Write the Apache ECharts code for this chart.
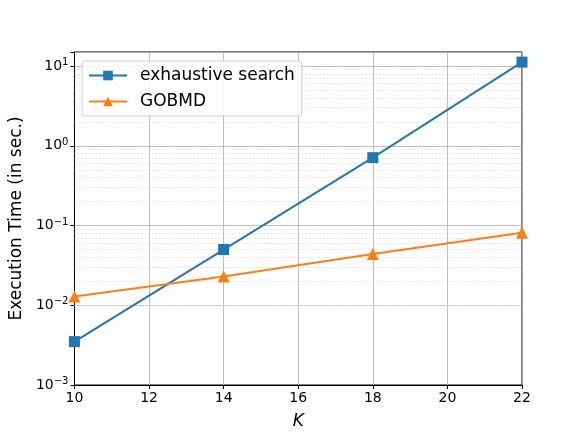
<!DOCTYPE html>
<html>
<head>
<meta charset="utf-8">
<script src="https://cdn.jsdelivr.net/npm/echarts@6/dist/echarts.min.js"></script>
<style>
  html, body { margin: 0; padding: 0; background: #fff; }
  #chart { width: 581px; height: 435px; }
</style>
</head>
<body>
<div id="chart"></div>
<script>
  // data
  const kValues = [10, 14, 18, 22];
  const exhaustive = [0.0035, 0.05, 0.71, 11.2];
  const gobmd = [0.0129, 0.023, 0.044, 0.081];
  const xTicks = [10, 12, 14, 16, 18, 20, 22];

  // dashed minor grid at 2..9 x 10^k
  const minorLines = [];
  for (let e = -3; e <= 1; e++) {
    for (let m = 2; m <= 9; m++) {
      const v = m * Math.pow(10, e);
      if (v < 15) minorLines.push({ yAxis: v });
    }
  }

  const font = 'DejaVu Sans';
  const chart = echarts.init(document.getElementById('chart'));
  chart.setOption({
    animation: false,
    textStyle: { fontFamily: font },
    grid: {
      left: 73, right: 59, top: 52, bottom: 49,
      show: true, borderColor: '#000', borderWidth: 1
    },
    legend: {
      orient: 'vertical',
      left: 82, top: 61,
      itemWidth: 38, itemHeight: 12, itemGap: 9,
      padding: [6, 7, 6, 6],
      borderColor: '#d0d0d0', borderWidth: 1, borderRadius: 3,
      backgroundColor: 'rgba(255,255,255,0.85)',
      textStyle: { fontSize: 17, color: '#000', fontFamily: font, padding: [0, 0, 0, 8] },
      data: ['exhaustive search', 'GOBMD']
    },
    xAxis: {
      type: 'value',
      min: 10, max: 22, interval: 2,
      name: 'K',
      nameLocation: 'middle',
      nameGap: 28,
      nameTextStyle: { fontSize: 17, fontStyle: 'italic', color: '#000', fontFamily: font },
      axisLine: { lineStyle: { color: '#000' } },
      axisTick: { length: 4, lineStyle: { color: '#000' } },
      axisLabel: { fontSize: 14, color: '#000', margin: 6,
        formatter: v => xTicks.includes(v) ? String(v) : '' },
      splitLine: { show: true, lineStyle: { color: '#b0b0b0', width: 0.8 } }
    },
    yAxis: {
      type: 'log',
      logBase: 10,
      min: 0.001, max: 15,
      name: 'Execution Time (in sec.)',
      nameLocation: 'middle',
      nameGap: 48,
      nameTextStyle: { fontSize: 17, color: '#000', fontFamily: font },
      axisLine: { lineStyle: { color: '#000' } },
      axisTick: { length: 4, lineStyle: { color: '#000' } },
      axisLabel: {
        color: '#000', margin: 6,
        formatter: v => {
          const e = Math.log10(v);
          if (Math.abs(e - Math.round(e)) > 1e-6) return '';
          const r = Math.round(e);
          return '{b|10}{s|' + (r < 0 ? '\u2212' + (-r) : r) + '}';
        },
        rich: {
          b: { fontSize: 14, fontFamily: font, color: '#000' },
          s: { fontSize: 10, fontFamily: font, color: '#000', verticalAlign: 'top', padding: [0, 0, 7, 0] }
        }
      },
      splitLine: { show: true, lineStyle: { color: '#b0b0b0', width: 0.8 } }
    },
    series: [
      {
        name: 'exhaustive search',
        type: 'line',
        data: kValues.map((k, i) => [k, exhaustive[i]]),
        symbol: 'rect',
        symbolSize: 11,
        lineStyle: { color: '#1f77b4', width: 2 },
        itemStyle: { color: '#1f77b4' },
        z: 3,
        markLine: {
          silent: true,
          symbol: 'none',
          label: { show: false },
          lineStyle: { color: '#d6d6d6', type: [2, 1.5], width: 0.6 },
          data: minorLines,
          z: 1
        }
      },
      {
        name: 'GOBMD',
        type: 'line',
        data: kValues.map((k, i) => [k, gobmd[i]]),
        symbol: 'triangle',
        symbolSize: 12,
        lineStyle: { color: '#ff7f0e', width: 2 },
        itemStyle: { color: '#ff7f0e' },
        z: 3
      }
    ]
  });
</script>
</body>
</html>
